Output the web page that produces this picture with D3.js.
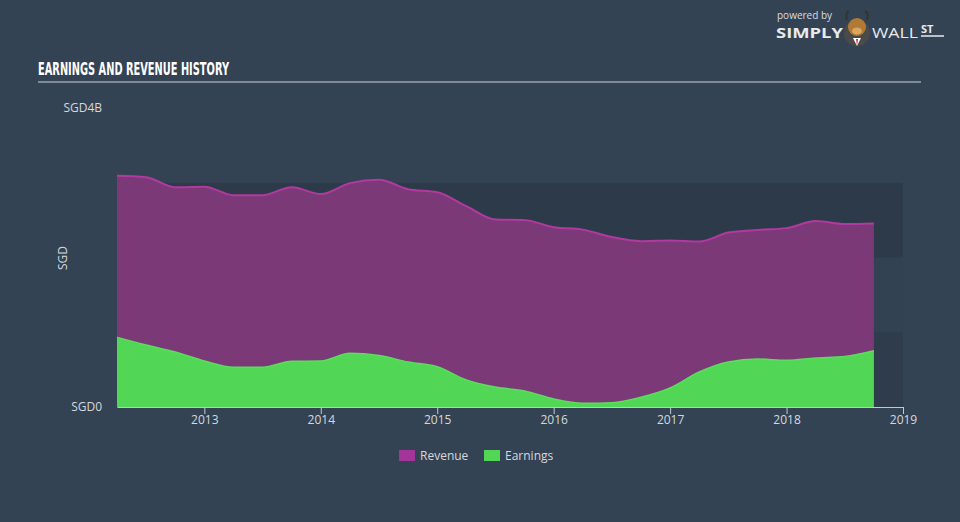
<!DOCTYPE html>
<html><head><meta charset="utf-8">
<script src="https://cdn.jsdelivr.net/npm/d3@7"></script>
<style>
html,body{margin:0;padding:0;background:#344354;}
svg{display:block;}
</style></head>
<body>
<svg id="chart" width="960" height="522"></svg>
<script>
// Quarterly dates (decimal years)
const dates = [2012.25,2012.5,2012.75,2013,2013.25,2013.5,2013.75,2014,2014.25,2014.5,2014.75,2015,2015.25,2015.5,2015.75,2016,2016.25,2016.5,2016.75,2017,2017.25,2017.5,2017.75,2018,2018.25,2018.5,2018.75];
// SGD billions
const revenue = [3.095,3.075,2.94,2.948,2.834,2.834,2.94,2.848,2.995,3.041,2.914,2.874,2.687,2.507,2.5,2.406,2.373,2.273,2.219,2.229,2.213,2.333,2.369,2.393,2.487,2.447,2.456];
const earnings = [0.932,0.829,0.735,0.615,0.531,0.531,0.611,0.615,0.718,0.688,0.602,0.539,0.361,0.267,0.214,0.107,0.049,0.057,0.130,0.254,0.468,0.602,0.642,0.624,0.655,0.675,0.753];
const yearTicks = [2013,2014,2015,2016,2017,2018,2019];
const yLabels = ["SGD0","SGD4B"];
const bandBounds = [0,1,2,3];
const seriesNames = ["Revenue","Earnings"];
const seriesColors = ["#a3359a","#52d655"];

const svg = d3.select("#chart");
const x = d3.scaleLinear().domain([2012.25,2019]).range([117,903]);
const y = d3.scaleLinear().domain([0,4]).range([407,108]);

svg.append("rect").attr("width",960).attr("height",522).attr("fill","#344354");

// background bands
const bandCols = ["#2f3c4c","#334253","#2d3a4a"];
for (let i=0;i<3;i++){
  svg.append("rect").attr("x",x(2012.25)).attr("width",x(2019)-x(2012.25))
    .attr("y",y(bandBounds[i+1])).attr("height",y(bandBounds[i])-y(bandBounds[i+1]))
    .attr("fill",bandCols[i]);
}

// title
svg.append("text").attr("x",38).attr("y",75).text("EARNINGS AND REVENUE HISTORY")
  .attr("font-family","'Liberation Sans Narrow','DejaVu Sans Condensed',sans-serif")
  .attr("font-weight","bold").attr("font-size",18).attr("fill","#ffffff")
  .attr("textLength",191).attr("lengthAdjust","spacingAndGlyphs");
svg.append("line").attr("x1",38).attr("x2",921).attr("y1",82).attr("y2",82)
  .attr("stroke","#9aa3ad").attr("stroke-width",1.5);

const data = dates.map((d,i)=>({d, r:revenue[i], e:earnings[i]}));
const curve = d3.curveMonotoneX;

const areaR = d3.area().x(p=>x(p.d)).y0(y(0)).y1(p=>y(p.r)).curve(curve);
const lineR = d3.line().x(p=>x(p.d)).y(p=>y(p.r)).curve(curve);
const areaE = d3.area().x(p=>x(p.d)).y0(y(0)).y1(p=>y(p.e)).curve(curve);
const lineE = d3.line().x(p=>x(p.d)).y(p=>y(p.e)).curve(curve);

svg.append("path").datum(data).attr("d",areaR).attr("fill","#7b3a77");
svg.append("path").datum(data).attr("d",lineR).attr("fill","none").attr("stroke","#b2399f").attr("stroke-width",2);
svg.append("path").datum(data).attr("d",areaE).attr("fill","#52d655");
svg.append("path").datum(data).attr("d",lineE).attr("fill","none").attr("stroke","#5ade5c").attr("stroke-width",1.5);

// x axis
const xAxis = d3.axisBottom(x).tickValues(yearTicks).tickFormat(d3.format("d")).tickSize(7).tickSizeOuter(0);
const gx = svg.append("g").attr("transform","translate(0,407)").call(xAxis);
gx.select(".domain").attr("stroke","#c3c9d0");
gx.selectAll(".tick line").attr("stroke","#c3c9d0");
gx.selectAll(".tick text").attr("fill","#d4d8dc").attr("font-size",12)
  .attr("font-family","'Open Sans',sans-serif").attr("dy","0.9em").attr("y",6);

// y labels
const yVals = [0,4];
svg.selectAll(".ylab").data(yVals).enter().append("text")
  .attr("x",102).attr("y",d=>y(d)).attr("dy","0.35em").attr("text-anchor","end")
  .attr("fill","#d4d8dc").attr("font-size",12).attr("font-family","'Open Sans',sans-serif")
  .text((d,i)=>yLabels[i]);
svg.append("text").attr("transform","translate(67,258) rotate(-90)").attr("text-anchor","middle")
  .attr("fill","#d4d8dc").attr("font-size",12).attr("font-family","'Open Sans',sans-serif").text("SGD");

// legend
const lg = svg.append("g");
const legX = [399,484];
seriesNames.forEach((n,i)=>{
  lg.append("rect").attr("x",legX[i]).attr("y",450).attr("width",16).attr("height",11).attr("fill",seriesColors[i]);
  lg.append("text").attr("x",legX[i]+21).attr("y",456).attr("dy","0.35em").attr("fill","#d4d8dc")
    .attr("font-size",12).attr("font-family","'Open Sans',sans-serif").text(n);
});

// logo
const logo = svg.append("g");
logo.append("text").attr("x",777).attr("y",19).text("powered by").attr("fill","#d8dce0")
  .attr("font-size",10).attr("font-family","'Open Sans',sans-serif");
logo.append("text").attr("x",776).attr("y",38).text("SIMPLY").attr("fill","#e8eaec")
  .attr("font-size",14).attr("font-weight","bold").attr("font-family","'Open Sans',sans-serif")
  .attr("textLength",67).attr("lengthAdjust","spacingAndGlyphs");
logo.append("circle").attr("cx",857).attr("cy",33).attr("r",13).attr("fill","#4a4a4a");
logo.append("ellipse").attr("cx",857).attr("cy",27).attr("rx",9).attr("ry",9).attr("fill","#b07a35");
logo.append("path").attr("d","M847,20 Q845,13 849,11 M867,20 Q869,13 865,11").attr("stroke","#333").attr("stroke-width",2).attr("fill","none");
logo.append("ellipse").attr("cx",857).attr("cy",31).attr("rx",5).attr("ry",3.5).attr("fill","#d9a860");
logo.append("path").attr("d","M853,38 L857,46 L861,38 Z").attr("fill","#ffffff");
logo.append("path").attr("d","M856,39 L857,46 L858,39 Z").attr("fill","#d03030");
logo.append("text").attr("x",872).attr("y",38).text("WALL").attr("fill","#e8eaec")
  .attr("font-size",14).attr("font-family","'Open Sans',sans-serif")
  .attr("textLength",46).attr("lengthAdjust","spacingAndGlyphs");
logo.append("text").attr("x",921).attr("y",33).text("ST").attr("fill","#e8eaec")
  .attr("font-size",11).attr("font-weight","bold").attr("font-family","'Open Sans',sans-serif");
logo.append("line").attr("x1",921).attr("x2",944).attr("y1",36).attr("y2",36).attr("stroke","#e8eaec").attr("stroke-width",1.5);
</script>
</body></html>
